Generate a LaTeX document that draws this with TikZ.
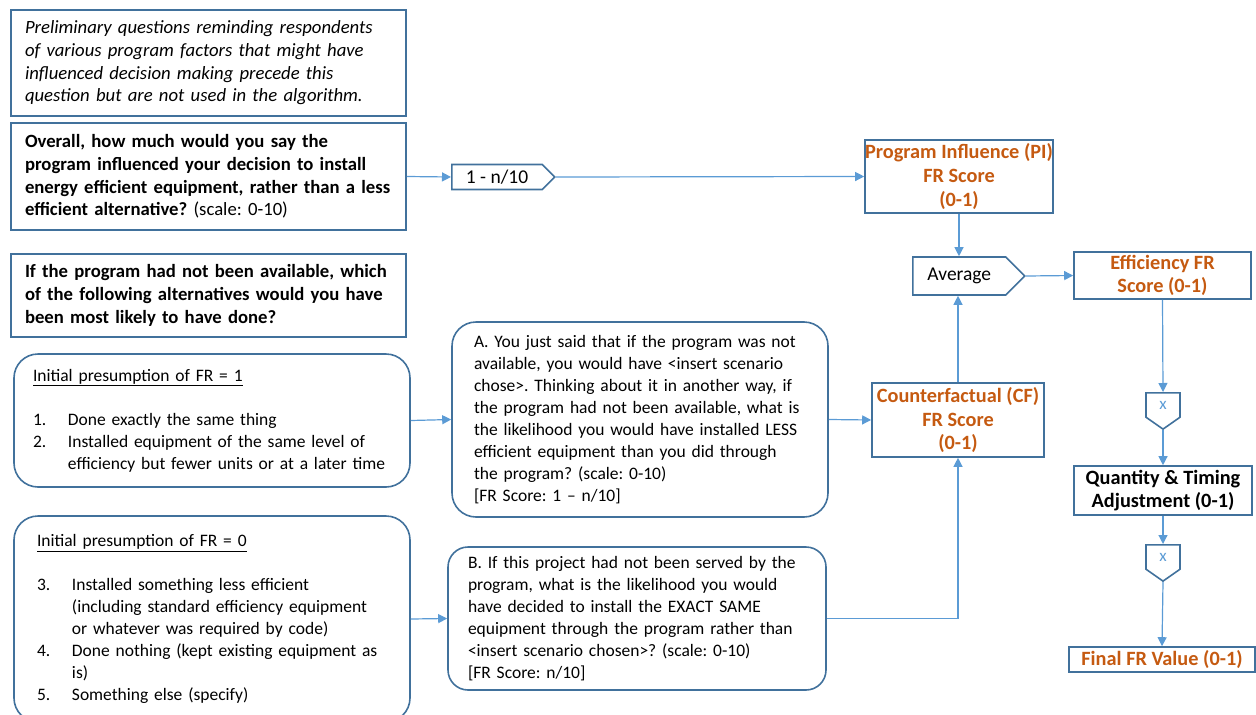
\documentclass[tikz,border=0pt]{standalone}
\usepackage{fontspec}
\setmainfont{Carlito}
\usepackage{tikz}
\usetikzlibrary{arrows.meta,shapes.symbols,positioning}
\definecolor{boxblue}{HTML}{41719C}
\definecolor{lineblue}{HTML}{5B9BD5}
\definecolor{scoreorange}{HTML}{C55A11}
\newcommand{\itemnum}[1]{\makebox[35pt][l]{#1}}
\newcommand{\itemgap}{\hspace*{35pt}}
\frenchspacing

\begin{document}
\begin{tikzpicture}[x=1pt,y=-1pt,
  qbox/.style={draw=boxblue,line width=1.6pt,align=left,inner ysep=0pt,font=\fontsize{17.5}{22}\selectfont},
  topbox/.style={qbox,minimum width=395pt,inner xsep=14pt,text width=367pt,font=\fontsize{18.7}{22.7}\selectfont},
  rbox/.style={qbox,rounded corners=24pt},
  score/.style={draw=boxblue,line width=1.6pt,align=center,inner sep=0pt,text=scoreorange,font=\fontsize{20.3}{23.7}\selectfont\bfseries},
  calcbox/.style={draw=boxblue,line width=1.6pt,shape=signal,signal to=east,signal pointer angle=90,inner sep=0pt,font=\fontsize{19.5}{22}\selectfont},
  timesbox/.style={draw=boxblue,line width=1.6pt,shape=signal,signal to=south,signal pointer angle=110,inner sep=0pt,text=lineblue,font=\fontsize{17}{18}\selectfont},
  flow/.style={draw=lineblue,line width=1.2pt,-{Triangle[length=9pt,width=9pt]}}]
\useasboundingbox (0,0) rectangle (1256,715);
% survey questions, left column
\node[topbox,minimum height=106pt,font=\fontsize{18.7}{22.7}\selectfont\itshape] (prelim) at (208.5,63)
  {Preliminary questions reminding respondents\\ of various program factors that might have\\ influenced decision making precede this\\ question but are not used in the algorithm.};
\node[topbox,minimum height=107pt] (overall) at (208.5,176.5)
  {\bfseries Overall, how much would you say the\\ \bfseries program influenced your decision to install\\ \bfseries energy efficient equipment, rather than a less\\ \bfseries efficient alternative? \mdseries(scale: 0-10)};
\node[topbox,minimum height=83pt,font=\fontsize{18.7}{22.7}\selectfont\bfseries] (ifnot) at (208.5,295.5)
  {If the program had not been available, which\\ of the following alternatives would you have\\ been most likely to have done?};
\node[rbox,minimum width=396pt,minimum height=133pt,inner xsep=19pt,text width=358pt] (presone) at (212,420.5)
  {\underline{Initial presumption of FR = 1}\\[22pt]
   \itemnum{1.}Done exactly the same thing\\
   \itemnum{2.}Installed equipment of the same level of\\
   \itemgap efficiency but fewer units or at a later time};
\node[rbox,minimum width=396pt,minimum height=206pt,inner xsep=23pt,text width=350pt] (preszero) at (212,619)
  {\underline{Initial presumption of FR = 0}\\[22pt]
   \itemnum{3.}Installed something less efficient\\
   \itemgap(including standard efficiency equipment\\
   \itemgap or whatever was required by code)\\
   \itemnum{4.}Done nothing (kept existing equipment as\\
   \itemgap is)\\
   \itemnum{5.}Something else (specify)};
% follow-up questions
\node[rbox,minimum width=376pt,minimum height=195pt,inner xsep=22pt,text width=332pt] (askA) at (640,419.5)
  {A. You just said that if the program was not\\ available, you would have <insert scenario\\ chose>. Thinking about it in another way, if\\ the program had not been available, what is\\ the likelihood you would have installed LESS\\ efficient equipment than you did through\\ the program? (scale: 0-10)\\ {[}FR Score: 1 -- n/10]};
\node[rbox,rounded corners=20pt,minimum width=378pt,minimum height=143pt,inner xsep=20pt,text width=338pt] (askB) at (637,618.5)
  {B. If this project had not been served by the\\ program, what is the likelihood you would\\ have decided to install the EXACT SAME\\ equipment through the program rather than\\ <insert scenario chosen>? (scale: 0-10)\\ {[}FR Score: n/10]};
% scores and calculations
\node[calcbox,anchor=west,minimum width=103pt,minimum height=25pt] (oneminus) at (451,177) {1 - n/10};
\node[score,minimum width=188pt,minimum height=73pt] (pi) at (959,176.5) {Program Influence (PI)\\ FR Score\\ (0-1)};
\node[calcbox,anchor=west,minimum width=112pt,minimum height=38pt] (avg) at (912,276) {Average};
\node[score,minimum width=177pt,minimum height=47pt] (eff) at (1162.5,275.5) {Efficiency FR\\ Score (0-1)};
\node[score,minimum width=172pt,minimum height=74pt] (cf) at (958,420) {Counterfactual (CF)\\ FR Score\\ (0-1)};
\node[timesbox,anchor=north,minimum width=34pt,minimum height=27pt] (timesone) at (1163,392) {x};
\node[score,text=black,minimum width=178pt,minimum height=49pt] (qt) at (1163,490.5) {Quantity \& Timing\\ Adjustment (0-1)};
\node[timesbox,anchor=north,minimum width=34pt,minimum height=27pt] (timestwo) at (1163,544) {x};
\node[score,minimum width=186pt,minimum height=25pt] (final) at (1162,659.5) {Final FR Value (0-1)};
% connectors
\draw[flow] (overall.east) -- (oneminus.west);
\draw[flow] (oneminus.east) -- (pi.west);
\draw[flow] (pi.south) -- (pi.south |- avg.north);
\draw[flow] (cf.north) -- (cf.north |- avg.south);
\draw[flow] (avg.east) -- (eff.west);
\draw[flow] (eff.south) -- (timesone.north);
\draw[flow] (timesone.south) -- (qt.north);
\draw[flow] (qt.south) -- (timestwo.north);
\draw[flow] (timestwo.south) -- (final.north);
\draw[flow] (presone.east) -- (askA.west);
\draw[flow] (askA.east) -- (cf.west);
\draw[flow] (preszero.east) -- (askB.west);
\draw[flow] (askB.east) -| (cf.south);
\end{tikzpicture}
\end{document}
